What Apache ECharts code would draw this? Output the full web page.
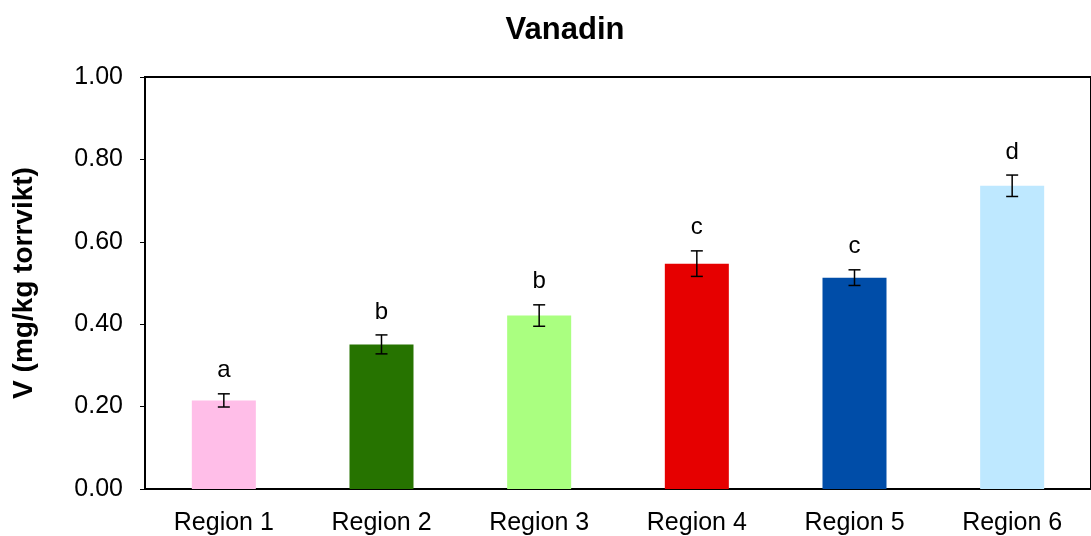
<!DOCTYPE html>
<html>
<head>
<meta charset="utf-8">
<script src="https://cdn.jsdelivr.net/npm/echarts@6/dist/echarts.min.js"></script>
<style>
html, body { margin: 0; padding: 0; background: #fff; }
#main { width: 1091px; height: 536px; }
</style>
</head>
<body>
<div id="main"></div>
<script>
var regions = ['Region 1', 'Region 2', 'Region 3', 'Region 4', 'Region 5', 'Region 6'];
var values = [0.215, 0.351, 0.421, 0.547, 0.513, 0.736];
var errors = [0.016, 0.023, 0.026, 0.031, 0.019, 0.026];
var letters = ['a', 'b', 'b', 'c', 'c', 'd'];
var colors = ['#FFBEE8', '#267300', '#AAFF80', '#E60000', '#004DA8', '#BEE8FF'];

var font = '"Liberation Sans", Arial, sans-serif';

var barData = values.map(function(v, i) {
	return { value: v, itemStyle: { color: colors[i] } };
});
var errData = values.map(function(v, i) {
	return [i, v - errors[i], v + errors[i], letters[i]];
});

var chart = echarts.init(document.getElementById('main'));
var option = {
	animation: false,
	title: {
		text: 'Vanadin',
		left: 560,
		top: 10,
		textAlign: 'center',
		textStyle: { fontFamily: font, fontSize: 31, fontWeight: 'bold', color: '#000' }
	},
	grid: {
		left: 145,
		top: 77,
		width: 956,
		height: 413,
		show: true,
		borderColor: '#000',
		borderWidth: 2
	},
	xAxis: {
		type: 'category',
		data: regions,
		axisLine: { lineStyle: { color: '#000', width: 2 } },
		axisTick: { show: false },
		axisLabel: { fontFamily: font, fontSize: 25, color: '#000', margin: 22 }
	},
	yAxis: {
		type: 'value',
		min: 0,
		max: 1,
		interval: 0.2,
		name: 'V (mg/kg torrvikt)',
		nameLocation: 'middle',
		nameGap: 107,
		nameTextStyle: { fontFamily: font, fontSize: 28, fontWeight: 'bold', color: '#000' },
		axisLine: { show: true, lineStyle: { color: '#000', width: 2 } },
		axisTick: { show: true, length: 5, lineStyle: { color: '#000' } },
		splitLine: { show: false },
		axisLabel: {
			fontFamily: font, fontSize: 25, color: '#000', margin: 22,
			formatter: function(v) { return v.toFixed(2); }
		}
	},
	series: [{
		type: 'bar',
		data: barData,
		barWidth: '40.6%'
	}, {
		type: 'custom',
		data: errData,
		z: 10,
		renderItem: function(params, api) {
			var x = api.value(0);
			var lo = api.coord([x, api.value(1)]);
			var hi = api.coord([x, api.value(2)]);
			var w = 6;
			var st = { stroke: '#000', lineWidth: 1.5 };
			return {
				type: 'group',
				children: [
					{ type: 'line', shape: { x1: lo[0], y1: lo[1], x2: hi[0], y2: hi[1] }, style: st },
					{ type: 'line', shape: { x1: lo[0] - w, y1: lo[1], x2: lo[0] + w, y2: lo[1] }, style: st },
					{ type: 'line', shape: { x1: hi[0] - w, y1: hi[1], x2: hi[0] + w, y2: hi[1] }, style: st },
					{ type: 'text', style: {
						text: api.value(3), x: hi[0], y: hi[1] - 11,
						textAlign: 'center', textVerticalAlign: 'bottom',
						font: '24px ' + font, fill: '#000'
					} }
				]
			};
		}
	}]
};
chart.setOption(option);
</script>
</body>
</html>
